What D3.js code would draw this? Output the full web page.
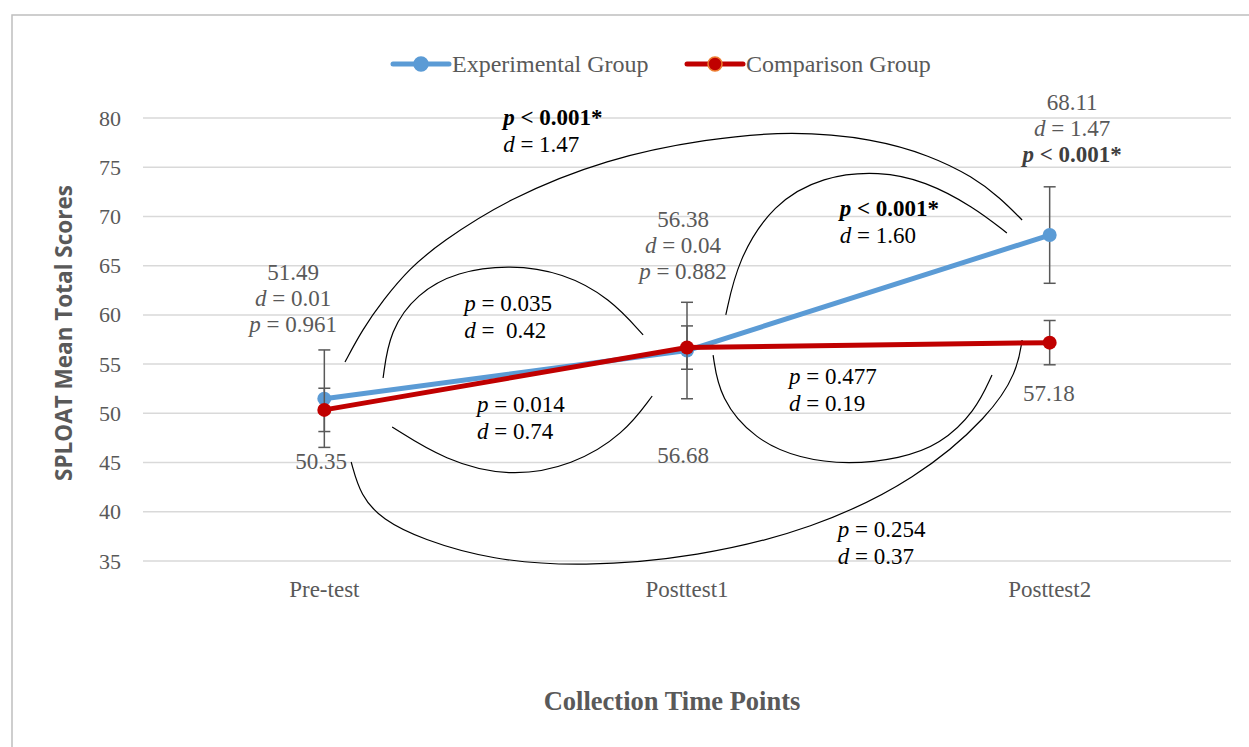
<!DOCTYPE html>
<html>
<head>
<meta charset="utf-8">
<title>SPLOAT mean total scores</title>
<script src="https://d3js.org/d3.v7.min.js"></script>
<style>
  body { margin: 0; background: #fff; }
  text { font-family: "Liberation Serif", "Times New Roman", serif; white-space: pre; }
</style>
</head>
<body>
<div id="chart"></div>
<script>
var categories = ["Pre-test", "Posttest1", "Posttest2"];
var experimental = [51.49, 56.38, 68.11];
var comparison = [50.35, 56.68, 57.18];
var experimentalErr = [4.95, 4.9, 4.9];
var comparisonErr = [2.2, 2.2, 2.25];
var yTicks = [35, 40, 45, 50, 55, 60, 65, 70, 75, 80];

// value labels near the points: [category index, value, lines]
var valueLabels = [
  [-0.086, 63.54, ["51.49", "d = 0.01", "p = 0.961"]],
  [0.989, 68.93, ["56.38", "d = 0.04", "p = 0.882"]],
  [2.062, 80.81, ["68.11", "d = 1.47", "*p < 0.001*"]],
  [-0.009, 44.34, ["50.35"]],
  [0.989, 44.95, ["56.68"]],
  [1.998, 51.25, ["57.18"]]
];

// comparison statistics: [category index, value, lines] ("*" prefix = bold)
var statLabels = [
  [0.493, 79.29, ["*p < 0.001*", "d = 1.47"]],
  [1.421, 70.04, ["*p < 0.001*", "d = 1.60"]],
  [0.386, 60.39, ["p = 0.035", "d =  0.42"]],
  [0.421, 50.13, ["p = 0.014", "d = 0.74"]],
  [1.281, 52.98, ["p = 0.477", "d = 0.19"]],
  [1.416, 37.44, ["p = 0.254", "d = 0.37"]]
];

// connector arcs, points as [category index, value]
var arcs = [
  [[0.057,55.21],[0.104,58.46],[0.162,61.51],[0.236,64.76],[0.319,67.30],[0.504,71.77],[0.780,75.9],[1.055,77.9],[1.292,78.7],[1.513,77.9],[1.670,76.2],[1.789,74.01],[1.863,71.9],[1.924,69.64]],
  [[1.107,59.99],[1.140,65.6],[1.237,71.3],[1.375,74.1],[1.532,74.6],[1.656,73.6],[1.789,71.0],[1.882,68.32]],
  [[0.162,53.59],[0.180,58.4],[0.256,62.2],[0.366,64.4],[0.512,65.1],[0.658,64.3],[0.788,61.7],[0.879,57.96]],
  [[0.187,48.61],[0.333,45.2],[0.509,43.5],[0.686,44.7],[0.826,47.9],[0.904,51.76]],
  [[1.072,55.92],[1.090,51.5],[1.188,47.3],[1.311,45.4],[1.446,44.8],[1.587,45.4],[1.698,46.8],[1.795,50.2],[1.841,53.89]],
  [[0.074,45.06],[0.100,41.6],[0.160,39.2],[0.269,37.2],[0.460,35.1],[0.711,34.4],[1.028,35.4],[1.345,38.2],[1.634,43.3],[1.836,49.8],[1.910,54.2],[1.924,57.45]]
];

var width = 1249, height = 747;
var blue = "#5b9bd5", red = "#c00000", gray = "#595959";
var serif = "Liberation Serif";

var svg = d3.select("#chart").append("svg")
  .attr("width", width)
  .attr("height", height);

svg.append("rect")
  .attr("x", 12).attr("y", 15)
  .attr("width", 1260).attr("height", 760)
  .attr("fill", "#fff")
  .attr("stroke", "#bfbfbf")
  .attr("stroke-width", 1.5);

var x = d3.scaleBand().domain(categories).range([143, 1231]);
var cx = function(c) { return x(c) + x.bandwidth() / 2; };
var xi = d3.scaleLinear().domain([0, 2]).range([cx(categories[0]), cx(categories[2])]);
var y = d3.scaleLinear().domain([35, 80]).range([561, 118]);

// grid
svg.append("g").selectAll("line")
  .data(yTicks).enter().append("line")
  .attr("x1", 143).attr("x2", 1231)
  .attr("y1", d => y(d)).attr("y2", d => y(d))
  .attr("stroke", "#d9d9d9").attr("stroke-width", 1.5);

// axes
var yAxis = svg.append("g")
  .attr("transform", "translate(143,0)")
  .call(d3.axisLeft(y).tickValues(yTicks).tickSize(0).tickPadding(22));
yAxis.attr("font-family", serif);
yAxis.select(".domain").remove();
yAxis.selectAll("text")
  .style("font-family", serif)
  .style("font-size", "22px")
  .attr("fill", gray);

var xAxis = svg.append("g")
  .attr("transform", "translate(0,561)")
  .call(d3.axisBottom(x).tickSize(0).tickPadding(20));
xAxis.attr("font-family", serif);
xAxis.select(".domain").remove();
xAxis.selectAll("text")
  .style("font-family", serif)
  .style("font-size", "23px")
  .attr("fill", gray);

svg.append("text")
  .attr("transform", "translate(72,333) rotate(-90)")
  .attr("text-anchor", "middle")
  .style("font-family", "Open Sans")
  .style("font-weight", "bold")
  .style("font-size", "22.5px")
  .attr("fill", gray)
  .text("SPLOAT Mean Total Scores");

svg.append("text")
  .attr("x", 672).attr("y", 710)
  .attr("text-anchor", "middle")
  .style("font-family", serif)
  .style("font-weight", "bold")
  .style("font-size", "26.5px")
  .attr("fill", gray)
  .text("Collection Time Points");

// arcs
var arcLine = d3.line()
  .x(d => xi(d[0]))
  .y(d => y(d[1]))
  .curve(d3.curveBasis);
svg.append("g").selectAll("path")
  .data(arcs).enter().append("path")
  .attr("d", arcLine)
  .attr("fill", "none")
  .attr("stroke", "#000")
  .attr("stroke-width", 1.2);

// series
var series = [
  { name: "Experimental Group", values: experimental, err: experimentalErr, color: blue, ring: blue },
  { name: "Comparison Group", values: comparison, err: comparisonErr, color: red, ring: "#ed7d31" }
];

var line = d3.line()
  .x((d, i) => cx(categories[i]))
  .y(d => y(d));

series.forEach(function(s) {
  var g = svg.append("g");
  s.values.forEach(function(v, i) {
    var px = cx(categories[i]);
    var top = y(v + s.err[i]), bot = y(v - s.err[i]);
    g.append("line").attr("x1", px).attr("x2", px).attr("y1", top).attr("y2", bot)
      .attr("stroke", gray).attr("stroke-width", 1.5);
    [top, bot].forEach(function(yy) {
      g.append("line").attr("x1", px - 6).attr("x2", px + 6).attr("y1", yy).attr("y2", yy)
        .attr("stroke", gray).attr("stroke-width", 1.5);
    });
  });
  g.append("path")
    .datum(s.values)
    .attr("d", line)
    .attr("fill", "none")
    .attr("stroke", s.color)
    .attr("stroke-width", 5)
    .attr("stroke-linejoin", "round");
  g.selectAll("circle")
    .data(s.values).enter().append("circle")
    .attr("cx", (d, i) => cx(categories[i]))
    .attr("cy", d => y(d))
    .attr("r", 7)
    .attr("fill", s.color);
});

// legend
var legendX = [393, 687];
series.forEach(function(s, i) {
  var lg = svg.append("g").attr("transform", "translate(" + legendX[i] + ",64)");
  lg.append("line").attr("x1", 0).attr("x2", 56).attr("y1", 0).attr("y2", 0)
    .attr("stroke", s.color).attr("stroke-width", 5).attr("stroke-linecap", "round");
  lg.append("circle").attr("cx", 28).attr("cy", 0).attr("r", 7)
    .attr("fill", s.color).attr("stroke", s.ring).attr("stroke-width", 1.5);
  lg.append("text").attr("x", 59).attr("y", 8)
    .style("font-family", serif)
    .style("font-size", "24px").attr("fill", gray)
    .text(s.name);
});

// text helpers
function writeLine(t, str) {
  var bold = str.charAt(0) === "*";
  if (bold) str = str.slice(1);
  var first = str.charAt(0);
  var rest = str.slice(1);
  if (first === "p" || first === "d") {
    t.append("tspan").style("font-style", "italic").style("font-weight", bold ? "bold" : "normal").text(first);
    t.append("tspan").style("font-weight", bold ? "bold" : "normal").text(rest);
  } else {
    t.append("tspan").text(str);
  }
}

function drawBlock(list, anchor, defaultColor) {
  list.forEach(function(b) {
    b[2].forEach(function(str, k) {
      var t = svg.append("text")
        .attr("x", xi(b[0]))
        .attr("y", y(b[1]) + k * (anchor === "middle" ? 26 : 27))
        .attr("text-anchor", anchor)
        .style("font-family", serif)
        .style("font-size", "23px")
        .attr("fill", str.charAt(0) === "*" && anchor === "middle" ? "#3f3f3f" : defaultColor);
      writeLine(t, str);
    });
  });
}

drawBlock(valueLabels, "middle", gray);
drawBlock(statLabels, "start", "#000");
</script>
</body>
</html>
